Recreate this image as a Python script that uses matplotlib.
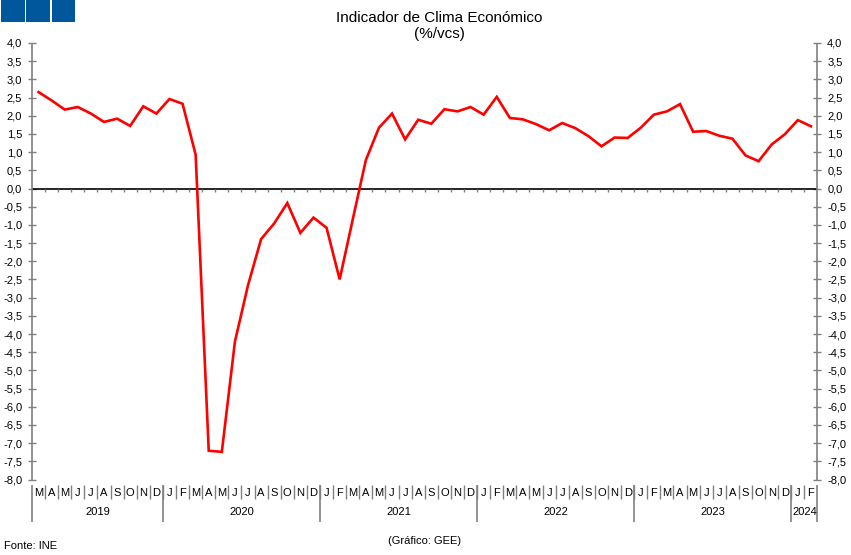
import matplotlib
matplotlib.use("Agg")
import matplotlib.pyplot as plt
from matplotlib.patches import Rectangle
from matplotlib.ticker import FuncFormatter, MultipleLocator
import numpy as np

plt.rcParams['font.family'] = ['Liberation Sans', 'DejaVu Sans']

# monthly values, Mar 2019 .. Feb 2024
months = ['M', 'A', 'M', 'J', 'J', 'A', 'S', 'O', 'N', 'D',
          'J', 'F', 'M', 'A', 'M', 'J', 'J', 'A', 'S', 'O', 'N', 'D',
          'J', 'F', 'M', 'A', 'M', 'J', 'J', 'A', 'S', 'O', 'N', 'D',
          'J', 'F', 'M', 'A', 'M', 'J', 'J', 'A', 'S', 'O', 'N', 'D',
          'J', 'F', 'M', 'A', 'M', 'J', 'J', 'A', 'S', 'O', 'N', 'D',
          'J', 'F']
values = [2.65, 2.42, 2.17, 2.24, 2.06, 1.83, 1.92, 1.72, 2.26, 2.06, 2.46, 2.33,
          0.93, -7.21, -7.24, -4.21, -2.66, -1.39, -0.96, -0.40, -1.22, -0.80, -1.08, -2.50,
          -0.85, 0.78, 1.67, 2.06, 1.35, 1.89, 1.78, 2.18, 2.12, 2.24, 2.03, 2.52,
          1.94, 1.90, 1.77, 1.60, 1.80, 1.66, 1.44, 1.16, 1.40, 1.39, 1.67, 2.03,
          2.12, 2.32, 1.56, 1.58, 1.45, 1.37, 0.91, 0.75, 1.21, 1.49, 1.88, 1.71]
years = ['2019', '2020', '2021', '2022', '2023', '2024']
months_per_year = [10, 12, 12, 12, 12, 2]

W, H = 851, 555
fig = plt.figure(figsize=(W / 100, H / 100), dpi=100)

# axes box in pixels
x0, x1, ytop, ybot = 32, 817.5, 43, 479.5
ax = fig.add_axes([x0 / W, 1 - ybot / H, (x1 - x0) / W, (ybot - ytop) / H])


def fy(py):
    # pixel row -> axes fraction
    return (ybot - py) / (ybot - ytop)


n = len(values)
x = np.arange(n) + 0.5
ax.plot(x, values, color='#ff0000', lw=1.9, zorder=3, solid_joinstyle='miter')

ax.set_xlim(0, n)
ax.set_ylim(-8, 4)

for s in ax.spines.values():
    s.set_visible(False)

# zero line with month ticks
ax.axhline(0, color='black', lw=1.2, zorder=2)
ax.vlines(np.arange(1, n), -0.1, 0, color='#808080', lw=1, zorder=2)

# y axis ticks/labels on both sides
ax.yaxis.set_major_locator(MultipleLocator(0.5))
ax.yaxis.set_major_formatter(FuncFormatter(lambda v, p: f"{v:.1f}".replace('.', ',')))
ax.tick_params(axis='y', left=True, right=True, labelleft=True, labelright=True,
               direction='inout', length=6, width=1, color='#808080',
               labelsize=8, pad=4)

# month letters as x tick labels
ax.set_xticks(x)
ax.set_xticklabels(months)
ax.tick_params(axis='x', length=0, labelsize=8, pad=6)

# month separators and year separators below the axis
tr = ax.get_xaxis_transform()
ax.vlines(np.arange(1, n), fy(485), fy(499), color='#808080', lw=1,
          transform=tr, clip_on=False)
bounds = np.concatenate([[0], np.cumsum(months_per_year)])
ax.vlines(bounds, fy(485), fy(522), color='#808080', lw=1.2,
          transform=tr, clip_on=False)
ax.vlines([0, n], 0, 1, color='#808080', lw=1.2, transform=tr, clip_on=False)
for yr, a, b in zip(years, bounds[:-1], bounds[1:]):
    ax.text((a + b) / 2, fy(512), yr, transform=tr, ha='center', va='center',
            fontsize=8)

# titles and notes
fig.text(439 / W, 1 - 17.5 / H, 'Indicador de Clima Económico', ha='center',
         va='center', fontsize=11)
fig.text(439 / W, 1 - 34 / H, '(%/vcs)', ha='center', va='center', fontsize=11)
fig.text(4 / W, 1 - 546 / H, 'Fonte: INE', ha='left', va='center', fontsize=8)
fig.text(425 / W, 1 - 541 / H, '(Gráfico: GEE)', ha='center', va='center', fontsize=8)

# blue squares top-left
for left in [1, 26, 51.5]:
    fig.add_artist(Rectangle((left / W, 1 - 22 / H), 23.5 / W, 22 / H,
                             transform=fig.transFigure, color='#00579c', lw=0))

fig.savefig('out.png', dpi=100)
